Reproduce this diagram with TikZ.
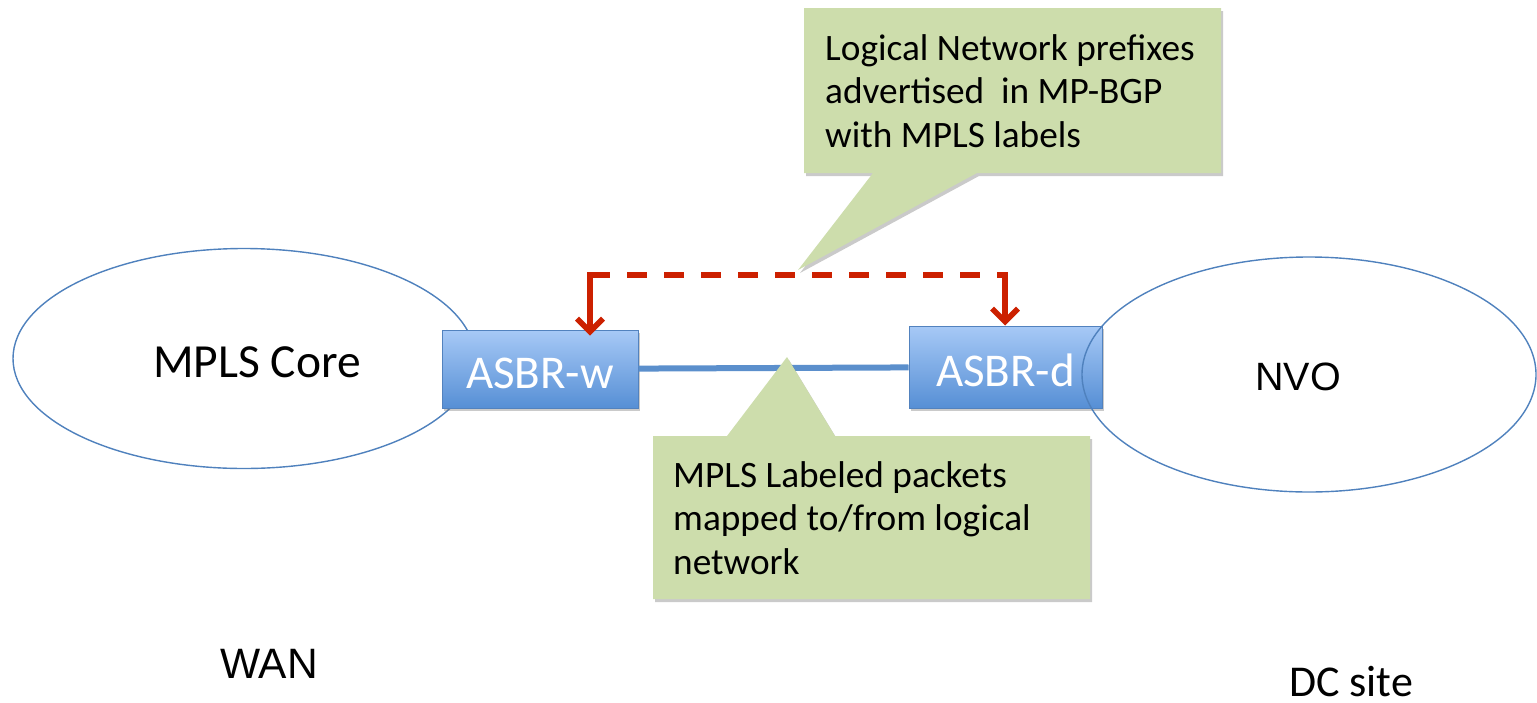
\documentclass[tikz,border=0pt]{standalone}
\usepackage{fontspec}
\setmainfont{Carlito}
\newfontfamily\arialfont{Liberation Sans}
\usetikzlibrary{arrows.meta,shadows}
\definecolor{ellline}{RGB}{79,129,189}
\definecolor{boxtop}{RGB}{167,201,246}
\definecolor{boxbot}{RGB}{86,143,213}
\definecolor{boxborder}{RGB}{82,130,190}
\definecolor{linkblue}{RGB}{91,143,204}
\definecolor{calloutgreen}{RGB}{205,221,172}
\definecolor{redline}{RGB}{204,32,0}
\tikzset{
  asbr/.style={draw=boxborder, line width=1pt, top color=boxtop, bottom color=boxbot,
    rectangle, inner sep=0pt, text=white, font=\fontsize{47}{52}\selectfont,
    text height=39pt, text depth=0pt,
    drop shadow={shadow xshift=2pt, shadow yshift=-3pt, opacity=0.35, fill=black!60}},
  callout/.style={fill=calloutgreen,
    drop shadow={shadow xshift=2pt, shadow yshift=-3pt, opacity=0.35, fill=black!60}},
  ctext/.style={anchor=north west, inner sep=0pt, align=left, font=\fontsize{37.3}{43.5}\selectfont},
  plain/.style={anchor=base west, inner sep=0pt},
  redconn/.style={draw=redline, line width=5.5pt},
  redtip/.style={-{Straight Barb[length=13pt, width=26pt]}},
  link/.style={draw=linkblue, line width=6pt}
}
\begin{document}
\begin{tikzpicture}[x=1pt, y=-1pt]
\useasboundingbox (0,0) rectangle (1537,702);
% left cloud
\draw[ellline, line width=1.4pt, fill=white] (244,358.5) ellipse [x radius=231, y radius=110];
\node[plain, font=\fontsize{47.5}{52}\selectfont] (mplscore) at (153,377) {MPLS Core};
% boxes
\node[asbr, minimum width=196pt, minimum height=78pt] (asbrw) at (540,369) {ASBR-w};
\node[asbr, minimum width=193pt, minimum height=82pt] (asbrd) at (1005.5,367) {ASBR-d};
% right cloud (no fill, on top)
\draw[ellline, line width=1.4pt] (1309,374.5) ellipse [x radius=227, y radius=117.5];
\node[plain, font=\arialfont\fontsize{39.5}{44}\selectfont] (nvo) at (1255,390) {NVO};
% link
\draw[link] (asbrw) -- (asbrd);
% red dashed connector
\coordinate (lc) at (590,275);
\coordinate (rc) at (1005,275);
\draw[redconn, dash pattern=on 20pt off 17pt] (lc) -- (rc);
\draw[redconn, redtip] ([yshift=2.75pt]lc) -- ([yshift=-6pt]asbrw.north -| lc);
\draw[redconn, redtip] ([yshift=2.75pt]rc) -- (asbrd.north -| rc);
% top callout
\path[callout] (804,8) -- (1221,8) -- (1221,173) -- (977,173) -- (798,270) -- (873,173) -- (804,173) -- cycle;
\node[ctext] (toptext) at (825,34) {Logical Network prefixes\\advertised~ in MP-BGP\\with MPLS labels};
% bottom callout
\path[callout] (653,436) -- (727,436) -- (787,357) -- (835,436) -- (1090,436) -- (1090,599) -- (653,599) -- cycle;
\node[ctext] (bottext) at (673,461) {MPLS Labeled packets\\mapped to/from logical\\network};
% site labels
\node[plain, font=\arialfont\fontsize{42.5}{46}\selectfont] (wan) at (220,678) {WAN};
\node[plain, font=\fontsize{44}{50}\selectfont] (dcsite) at (1289,696) {DC site};
\end{tikzpicture}
\end{document}
